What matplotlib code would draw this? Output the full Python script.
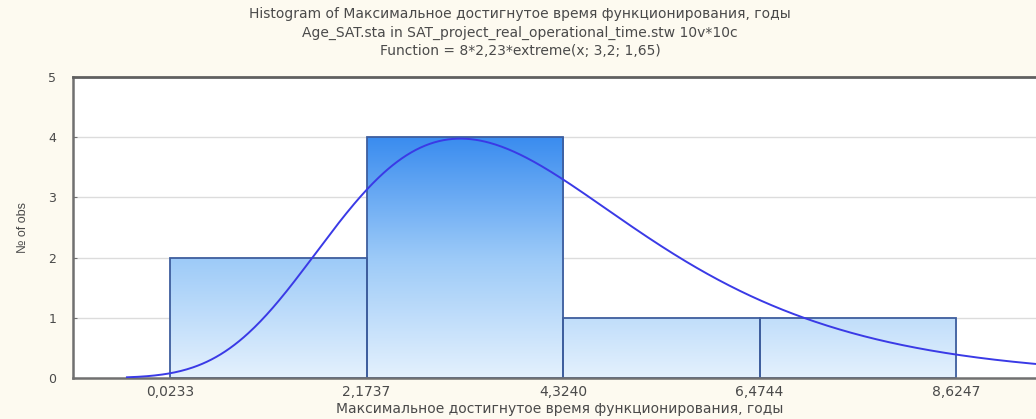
import matplotlib.pyplot as plt
import numpy as np
from matplotlib.colors import LinearSegmentedColormap
from matplotlib.patches import Rectangle

# Histogram data
bin_edges = [0.0233, 2.1737, 4.3240, 6.4744, 8.6247]
counts = [2, 4, 1, 1]
tick_labels = ["0,0233", "2,1737", "4,3240", "6,4744", "8,6247"]

# Fitted curve parameters, as printed in the title
n_obs = 8
fit_width = 2.23
fit_loc = 3.2
fit_scale = 1.65

title_lines = [
    "Histogram of Максимальное достигнутое время функционирования, годы",
    "Age_SAT.sta in SAT_project_real_operational_time.stw 10v*10c",
    "Function = 8*2,23*extreme(x; 3,2; 1,65)",
]
xlabel = "Максимальное достигнутое время функционирования, годы"
ylabel = "№ of obs"

bg = "#fdfaf0"
text_col = "#4a4a4a"

plt.rcParams["font.family"] = ["DejaVu Sans"]

fig = plt.figure(figsize=(10.36, 4.19), dpi=100, facecolor=bg)
ax = fig.add_axes([0.0705, 0.098, 0.94, 0.718])
ax.set_facecolor("white")

xmin, xmax = -1.04, 9.62
ax.set_xlim(xmin, xmax)
ax.set_ylim(0, 5)

# grid lines
for yv in [1, 2, 3, 4]:
    ax.axhline(yv, color="#dcdcdc", lw=1.0, zorder=0)

# gradient bars (colour depends on absolute height)
cmap = LinearSegmentedColormap.from_list("bars", ["#e4f1fd", "#9ccaf8", "#3a8cef"])
grad = np.linspace(0, 1, 256).reshape(-1, 1)
for left, right, c in zip(bin_edges[:-1], bin_edges[1:], counts):
    im = ax.imshow(grad, cmap=cmap, origin="lower", aspect="auto",
                   extent=[left, right, 0, 4], zorder=1, interpolation="bilinear")
    rect = Rectangle((left, 0), right - left, c, facecolor="none",
                     edgecolor="#3e5e9e", lw=1.3, zorder=2)
    ax.add_patch(rect)
    im.set_clip_path(rect)

# fitted extreme value curve
xs = np.linspace(-0.45, xmax, 600)
z = (xs - fit_loc) / fit_scale
ys = n_obs * fit_width * np.exp(-z - np.exp(-z)) / fit_scale
ax.plot(xs, ys, color="#3a3ae6", lw=1.4, zorder=3)

# axes styling
ax.spines["right"].set_visible(False)
ax.spines["left"].set_color("#707070")
ax.spines["left"].set_linewidth(1.8)
ax.spines["bottom"].set_color("#707070")
ax.spines["bottom"].set_linewidth(1.8)
ax.spines["top"].set_color("#606060")
ax.spines["top"].set_linewidth(2.0)

ax.set_yticks([0, 1, 2, 3, 4, 5])
ax.set_yticklabels(["0", "1", "2", "3", "4", "5"])
ax.set_xticks(bin_edges)
ax.set_xticklabels(tick_labels)
ax.tick_params(axis="y", direction="in", length=3, color="#707070",
               labelsize=9, labelcolor=text_col, pad=12)
ax.tick_params(axis="x", length=0, labelsize=10, labelcolor=text_col, pad=5)

ax.set_xlabel(xlabel, fontsize=10, color=text_col, labelpad=2)
ax.set_ylabel(ylabel, fontsize=9, color=text_col, labelpad=14,
              family=["Liberation Sans Narrow", "Liberation Sans", "DejaVu Sans"])

for i, line in enumerate(title_lines):
    fig.text(0.502, 1 - (14 + 18.5 * i) / 419, line, ha="center", va="center",
             fontsize=10, color=text_col)

fig.savefig("out.png", dpi=100, facecolor=bg)
